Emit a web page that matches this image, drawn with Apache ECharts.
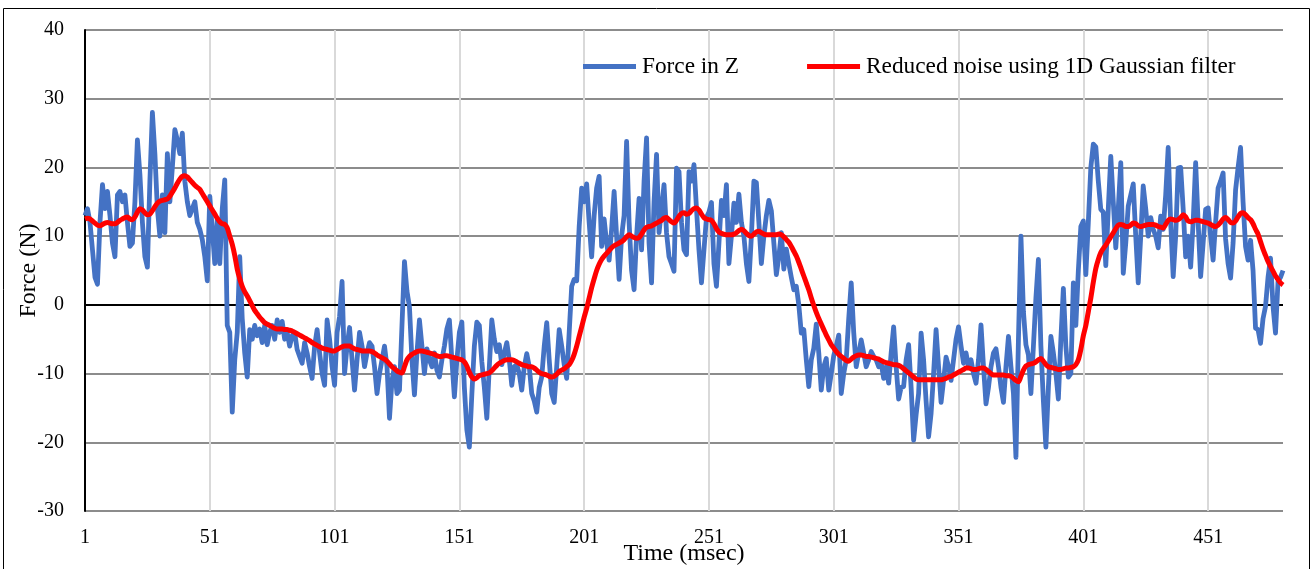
<!DOCTYPE html>
<html>
<head>
<meta charset="utf-8">
<script src="https://cdn.jsdelivr.net/npm/echarts@6/dist/echarts.min.js"></script>
<style>
html,body{margin:0;padding:0;background:#fff;}
#chart{width:1314px;height:569px;}
</style>
</head>
<body>
<div id="chart"></div>
<script>
// Sample index categories 1..481
const sampleCount = 481;
const categories = Array.from({length: sampleCount}, (_, i) => String(i + 1));

// Force in Z (N)
const forceZ = [
13,14,12,8,4,3,12,17.5,14,16.5,
13,9,7,16,16.5,15,16,12,8.5,9,
15,24,19,12,7,5.5,18,28,22,14,
10,16,10.5,22,15,20,25.5,24,22,25,
18,15,13,14,15,12,11,9.5,7,3.5,
15.8,11,6,12.5,6,14,18.2,-3,-4,-15.6,
-8,-4,7,-2,-7,-10.5,-3.6,-5,-3,-4.5,
-3.5,-5.5,-3,-5.8,-4,-3,-5,-2.2,-4,-2.4,
-5,-4,-6,-4.5,-4,-6.5,-7.5,-8.5,-5.5,-7,
-9,-10.7,-6,-3.6,-7,-10,-11.7,-2.2,-5,-9,
-11.7,-4,-1.7,3.4,-10,-6,-3.3,-8,-12.4,-8,
-4,-6,-9,-7,-5.5,-6,-9,-12.9,-10,-8,
-6,-9,-16.5,-11,-9,-12.9,-12.4,-3,6.3,2,
-0.3,-8,-13.1,-7,-2.2,-6,-10,-6.4,-8,-9,
-7,-9.5,-10.5,-8,-6,-3.5,-2.2,-8,-13.4,-8,
-4,-2.5,-12,-18.2,-20.7,-13,-6,-2.5,-3,-8.3,
-12,-16.5,-9,-2.2,-5,-6.8,-5.8,-8.7,-7,-5.5,
-8,-11.7,-9,-8.7,-10,-12.4,-9,-7.1,-9,-12.9,
-14,-15.6,-12,-10.5,-6,-2.6,-8,-12.9,-14.2,-9,
-3.6,-6,-8.7,-10.7,-4,2.7,3.7,3.5,11.4,17,
15,17.6,12,7,13,17,18.7,8.5,12.5,9,
6.5,11,16.5,10,3.7,10,13,23.8,12,5,
2.2,10,15.5,8,18,24.3,9,3.2,15,21.9,
10.5,14,17.5,10.5,7,6,4.9,19.9,19.4,12,
8,7.3,19.4,18,20.4,14,8,3.2,8,12.7,
13.5,14.9,6,2.7,9,15.2,13,17.5,6,10,
14.8,12,16.1,12,10,6,3.4,10,18,17.8,
12,6,10,13,15.2,13.7,9,4.4,7,10.5,
5.2,8.1,6,4,2.2,2.7,0,-4.1,-3.6,-8,
-11.9,-8,-6.3,-2.8,-7,-12.4,-9,-7.8,-12.4,-10,
-7.4,-6,-4.4,-12.9,-10,-8,-2,3.2,-4,-9,
-7,-5.1,-7,-9,-8,-6.8,-7.5,-8,-9,-8.5,
-10.7,-9,-11.4,-7,-3.2,-9,-13.7,-12,-11.9,-8,
-5.8,-12,-19.7,-16,-12.9,-4.1,-8,-14,-19.2,-15.8,
-10,-3.6,-9,-14.2,-11,-7.6,-9,-11,-8,-5,
-3.2,-6,-8.5,-7,-9,-8,-10,-11.4,-8,-2.9,
-9,-14.4,-12,-9,-7,-6.4,-9,-12,-14.2,-9,
-4.6,-9,-12.9,-22.2,-5,10,-1,-5.8,-7.3,-12.9,
-6,1,6.6,-6,-14,-20.7,-12,-4.6,-7,-10,
-13.7,-5,2.4,-6,-10.5,-10,3.2,-3,5,11.4,
12.2,4.4,12,20,23.4,23,18,13.9,13.5,5.7,
14,21.6,15,8.3,14,20.7,4.6,9,14.4,16,
17.6,10,3.2,10,17.3,14,10,12.7,11,10,
8.3,12.9,11,16,22.9,12,4.1,10,19.9,20,
14,7,10,5.5,12,20.7,12,4.1,9,13.9,
14.1,10,6.5,12,17,18,19.2,9.6,6,3.9,
9,16.7,20,22.9,15,8.5,6.5,9.4,5,-3.4,
-3.6,-5.6,-2,-0.2,4,6.8,-0.2,-4.1,3.4,4,
5
];

// Reduced noise using 1D Gaussian filter (N)
const filtered = [
12.5,12.6,12.5,12.2,11.9,11.6,11.5,11.7,11.9,12,
11.9,11.8,11.8,12,12.3,12.5,12.7,12.8,12.5,12.4,
12.8,13.5,14,13.8,13.4,13.1,13.2,13.7,14.3,14.8,
15.1,15.2,15.3,15.4,15.8,16.4,17,17.7,18.3,18.7,
18.8,18.6,18.2,17.8,17.4,17.1,16.8,16.2,15.6,15,
14.4,13.8,13.2,12.6,12.1,11.8,11.7,11.2,10,8.8,
7.2,5.2,3.8,2.7,1.9,1.3,0.6,-0.1,-0.8,-1.3,
-1.8,-2.2,-2.6,-2.8,-3,-3.2,-3.4,-3.5,-3.5,-3.5,
-3.6,-3.6,-3.7,-3.8,-4,-4.2,-4.4,-4.6,-4.8,-5,
-5.2,-5.5,-5.7,-5.9,-6.1,-6.3,-6.4,-6.5,-6.6,-6.7,
-6.7,-6.5,-6.3,-6.1,-6,-6,-6,-6.2,-6.4,-6.5,
-6.6,-6.7,-6.7,-6.7,-6.7,-6.8,-7,-7.3,-7.5,-7.7,
-7.9,-8.2,-8.6,-9,-9.3,-9.6,-9.8,-9.9,-9,-8,
-7.5,-7.2,-7,-6.8,-6.7,-6.7,-6.8,-6.9,-7,-7.1,
-7.2,-7.4,-7.5,-7.5,-7.4,-7.4,-7.5,-7.6,-7.7,-7.8,
-7.9,-8,-8.3,-8.9,-9.8,-10.5,-10.8,-10.6,-10.3,-10.2,
-10.1,-10,-9.9,-9.6,-9.2,-8.8,-8.5,-8.3,-8.1,-8,
-8,-8,-8.1,-8.3,-8.5,-8.7,-8.8,-8.9,-9,-9,
-9.2,-9.5,-9.8,-10,-10.1,-10.2,-10.4,-10.5,-10.4,-10.1,
-9.7,-9.5,-9.3,-9,-8.7,-8.1,-7.2,-6,-4.6,-3.2,
-1.8,-0.5,1,2.5,3.8,5,5.9,6.6,7.1,7.5,
7.9,8.3,8.6,8.8,9,9.2,9.5,9.9,10.2,10,
9.8,9.7,9.8,10.3,10.9,11.3,11.4,11.5,11.7,11.9,
12.1,12.3,12.6,12.7,12.4,12.1,11.9,12.3,12.9,13.3,
13.4,13.2,13.3,13.7,14,14.1,13.8,13.2,12.7,12.5,
12.4,12.3,11.8,11.1,10.6,10.4,10.3,10.2,10.2,10.2,
10.3,10.5,10.8,11,10.8,10.4,10.1,10,10.3,10.6,
10.7,10.5,10.3,10.2,10.2,10.2,10.2,10.2,10.3,10.2,
9.9,9.5,9.1,8.5,7.8,7.1,6.2,5.2,4.2,3.2,
2.2,1,-0.1,-1.1,-2,-2.8,-3.6,-4.4,-5.1,-5.8,
-6.3,-6.8,-7.2,-7.5,-7.8,-8.1,-8.2,-7.9,-7.6,-7.4,
-7.3,-7.3,-7.4,-7.5,-7.5,-7.6,-7.7,-7.8,-7.9,-8.1,
-8.3,-8.4,-8.5,-8.6,-8.7,-8.7,-8.8,-9,-9.3,-9.6,
-9.9,-10.2,-10.5,-10.8,-10.9,-10.9,-10.9,-10.9,-10.9,-10.9,
-10.9,-10.9,-10.9,-10.9,-10.8,-10.7,-10.5,-10.4,-10.2,-10,
-9.8,-9.6,-9.4,-9.2,-9.2,-9.3,-9.4,-9.4,-9.3,-9.2,
-9.2,-9.4,-9.7,-10,-10.2,-10.2,-10.2,-10.2,-10.2,-10.3,
-10.3,-10.4,-10.7,-11,-11.2,-10.4,-9.5,-8.9,-8.7,-8.6,
-8.5,-8.3,-8,-7.8,-8.2,-8.7,-9,-9.1,-9.2,-9.3,
-9.4,-9.4,-9.3,-9.2,-9.2,-9.1,-9,-8.7,-8,-6.5,
-4.5,-3,-1,1,3.3,5.3,6.6,7.6,8.2,8.7,
9.3,9.9,10.5,11.1,11.6,11.7,11.6,11.4,11.4,11.6,
11.9,11.8,11.5,11.4,11.5,11.6,11.7,11.7,11.7,11.6,
11.4,11.3,11.2,11.7,12.3,12.5,12.4,12.3,12.4,12.7,
13.1,12.8,12.2,12.1,12.2,12.3,12.3,12.2,12.1,12,
11.9,11.7,11.5,11.4,11.6,12,12.5,12.7,12.4,12,
11.9,12.2,12.8,13.3,13.4,13.1,12.7,12.4,11.8,11,
10.3,9.2,8.1,7.2,6.3,5.6,4.9,4.2,3.7,3.2,
2.9
];

const yTicks = [-30, -20, -10, 0, 10, 20, 30, 40];
const seriesNames = ['Force in Z', 'Reduced noise using 1D Gaussian filter'];

const FONT = "'Liberation Serif', 'Times New Roman', serif";
const chart = echarts.init(document.getElementById('chart'), null, {renderer: 'canvas'});
chart.setOption({
  animation: false,
  backgroundColor: '#ffffff',
  graphic: [{
    type: 'rect', silent: true, z: 100,
    shape: {x: 3.5, y: 8.5, width: 1306, height: 570},
    style: {fill: 'none', stroke: '#000', lineWidth: 1}
  }],
  grid: {left: 85, right: 31, top: 30, bottom: 58, containLabel: false, outerBoundsMode: 'none'},
  legend: {
    data: seriesNames,
    left: 583, top: 55, padding: 0,
    icon: 'rect', itemWidth: 53, itemHeight: 5, itemGap: 68,
    textStyle: {fontFamily: FONT, fontSize: 23.3, color: '#000', padding: [0, 0, 0, 1]}
  },
  xAxis: {
    type: 'category',
    data: categories,
    boundaryGap: false,
    name: 'Time (msec)',
    nameLocation: 'middle',
    nameGap: 31,
    nameMoveOverlap: false,
    nameTextStyle: {fontFamily: FONT, fontSize: 24, color: '#000'},
    axisLine: {show: false},
    axisTick: {show: false},
    axisLabel: {interval: 49, fontFamily: FONT, fontSize: 20, color: '#000', margin: 17},
    splitLine: {show: true, interval: 49, lineStyle: {color: '#d9d9d9', width: 2}}
  },
  yAxis: {
    type: 'value',
    min: yTicks[0], max: yTicks[yTicks.length - 1], interval: 10,
    name: 'Force (N)',
    nameLocation: 'middle',
    nameGap: 44,
    nameMoveOverlap: false,
    nameTextStyle: {fontFamily: FONT, fontSize: 24, color: '#000'},
    axisLine: {show: true, lineStyle: {color: '#000', width: 2}},
    axisTick: {show: false},
    axisLabel: {fontFamily: FONT, fontSize: 20, color: '#000', margin: 21},
    splitLine: {show: true, lineStyle: {color: '#8c8c8c', width: 2}}
  },
  series: [
    {
      name: seriesNames[0], type: 'line', data: forceZ,
      showSymbol: false, symbol: 'none',
      lineStyle: {color: '#4472C4', width: 4.8, join: 'round'},
      itemStyle: {color: '#4472C4'},
      markLine: {
        silent: true, symbol: 'none', label: {show: false},
        lineStyle: {color: '#000', width: 2, type: 'solid'},
        data: [{yAxis: 0}], z: 1
      },
      z: 2
    },
    {
      name: seriesNames[1], type: 'line', data: filtered,
      showSymbol: false, symbol: 'none', smooth: 0.3,
      lineStyle: {color: '#FF0000', width: 5, join: 'round'},
      itemStyle: {color: '#FF0000'},
      z: 3
    }
  ]
});
</script>
</body>
</html>
